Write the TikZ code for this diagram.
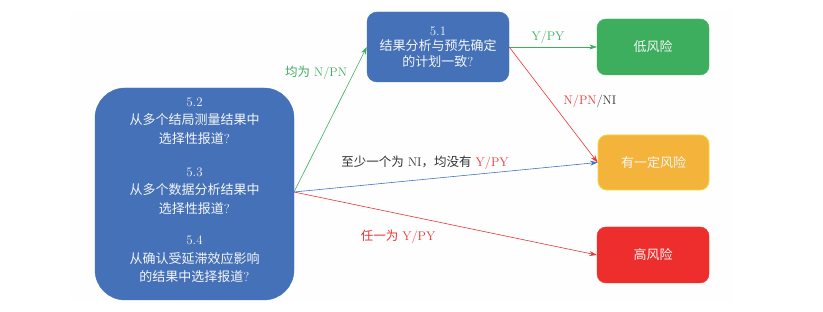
\documentclass[tikz,border=0pt]{standalone}
\usepackage{fontspec}
\newfontfamily\cjk{Noto Sans CJK SC}
\usetikzlibrary{arrows.meta}
\definecolor{boxblue}{RGB}{68,113,184}
\definecolor{boxgreen}{RGB}{60,174,94}
\definecolor{boxred}{RGB}{238,46,44}
\definecolor{boxyellow}{RGB}{244,179,58}
\definecolor{yedge}{RGB}{245,214,60}
\definecolor{argreen}{RGB}{61,174,92}
\definecolor{arred}{RGB}{236,52,52}
\definecolor{arblue}{RGB}{68,114,196}
\definecolor{panel}{RGB}{254,254,254}
\definecolor{txtgray}{RGB}{51,51,51}
\definecolor{boxtxt}{RGB}{245,245,245}
\begin{document}
\begin{tikzpicture}[x=1pt,y=-1pt,
  box/.style={rectangle, text=boxtxt, align=center, inner sep=0pt},
  qtext/.style={text=boxtxt, align=center, font=\fontsize{13}{18.5}\selectfont, inner sep=0pt},
  arr/.style={-{Stealth[length=7.5pt,width=5pt]}, line width=0.6pt},
  lbl/.style={font=\fontsize{12.5}{14}\selectfont, inner sep=0pt}
]
\useasboundingbox (0,0) rectangle (823,312);
\fill[panel] (70,10) rectangle (733,302);

\node[box, fill=boxblue, draw=boxblue, rounded corners=30pt, minimum width=199pt, minimum height=212pt] (big) at (194.5,194) {};
\node[qtext] (q52) at (194.5,121) {5.2\\{\cjk 从多个结局测量结果中}\\{\cjk 选择性报道}?};
\node[qtext] (q53) at (194.5,191) {5.3\\{\cjk 从多个数据分析结果中}\\{\cjk 选择性报道}?};
\node[qtext] (q54) at (194.5,259.5) {5.4\\{\cjk 从确认受延滞效应影响}\\{\cjk 的结果中选择报道}?};

\node[box, fill=boxblue, draw=boxblue, rounded corners=10pt, minimum width=142pt, minimum height=70pt, font=\fontsize{13}{15.5}\selectfont] (b51) at (438,47) {5.1\\{\cjk 结果分析与预先确定}\\{\cjk 的计划一致}?};

\node[box, fill=boxgreen, draw=boxgreen, rounded corners=9pt, minimum width=112pt, minimum height=56pt, font=\fontsize{13}{15}\selectfont\cjk] (low) at (653,47) {低风险};
\node[box, fill=boxyellow, draw=yedge, line width=0.8pt, rounded corners=9pt, minimum width=111pt, minimum height=55pt, font=\fontsize{13}{15}\selectfont\cjk] (mid) at (653.5,162.5) {有一定风险};
\node[box, fill=boxred, draw=boxred, rounded corners=9pt, minimum width=112pt, minimum height=56pt, font=\fontsize{13}{15}\selectfont\cjk] (high) at (653,255) {高风险};

\coordinate (s) at (294,192);
\draw[arr, argreen] (s) -- (b51.west);
\draw[arr, arblue] (s) -- (mid.west);
\draw[arr, arred] (s) -- (high.west);
\draw[arr, argreen] (b51.east) -- (low.west);
\draw[arr, arred] (b51.east) -- (mid.west);

\node[lbl, text=argreen] (l1) at (316,73) {{\cjk 均为} N/PN};
\node[lbl, text=argreen] (l2) at (548,37) {Y/PY};
\node[lbl, text=txtgray] (l3) at (590,101) {\textcolor{arred}{N/PN}/NI};
\node[lbl, text=txtgray] (l4) at (425,163) {{\cjk 至少一个为} NI{\cjk ，均没有} \textcolor{arred}{Y/PY}};
\node[lbl, text=arred] (l5) at (398,237) {{\cjk 任一为} Y/PY};
\end{tikzpicture}
\end{document}
